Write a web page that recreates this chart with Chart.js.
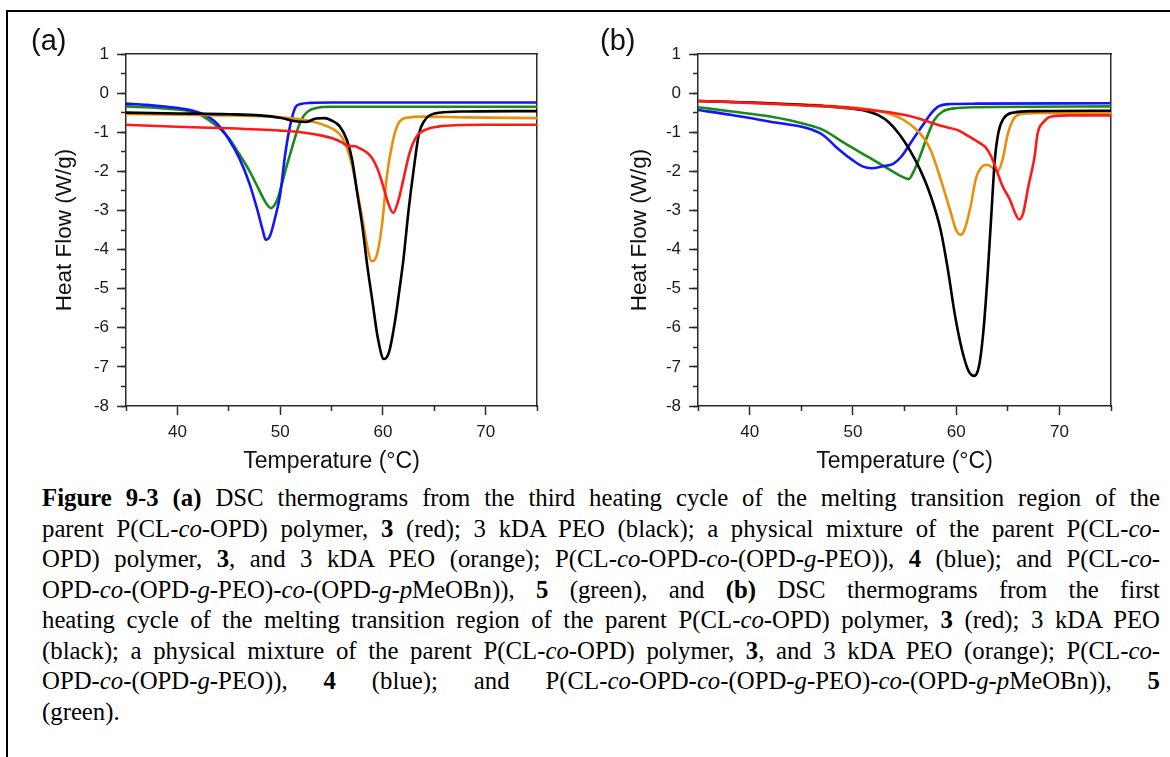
<!DOCTYPE html>
<html>
<head>
<meta charset="utf-8">
<script src="https://cdn.jsdelivr.net/npm/chart.js@4.4.1/dist/chart.umd.min.js"></script>
<style>
html,body{margin:0;padding:0;background:#fff;width:1170px;height:757px;overflow:hidden;}
#frame{position:absolute;left:6px;top:10px;width:1300px;height:900px;border-left:2px solid #000;border-top:2px solid #000;}
canvas{position:absolute;top:0;}
#ca{left:0px;}
#cb{left:585px;}
.panel{position:absolute;font-family:'Liberation Sans',Arial,sans-serif;font-size:29px;line-height:29px;color:#111;}
#caption{position:absolute;left:42px;width:1118px;top:483px;font-family:'Liberation Serif','Times New Roman',serif;font-size:25px;line-height:30.5px;color:#000;}
#caption .ln{text-align:justify;text-align-last:justify;white-space:nowrap;}
#caption .ln.last{text-align-last:left;}
#caption .ln span{display:inline;}
</style>
</head>
<body>
<div id="frame"></div>
<canvas id="ca" width="585" height="480"></canvas>
<canvas id="cb" width="585" height="480"></canvas>
<div class="panel" style="left:31px;top:26px;">(a)</div>
<div class="panel" style="left:600px;top:26px;">(b)</div>
<div id="caption">
<div class="ln"><span><b>Figure 9-3 (a)</b> DSC thermograms from the third heating cycle of the melting transition region of the</span></div>
<div class="ln"><span>parent P(CL-<i>co</i>-OPD) polymer, <b>3</b> (red); 3 kDA PEO (black); a physical mixture of the parent P(CL-<i>co</i>-</span></div>
<div class="ln"><span>OPD) polymer, <b>3</b>, and 3 kDA PEO (orange); P(CL-<i>co</i>-OPD-<i>co</i>-(OPD-<i>g</i>-PEO)), <b>4</b> (blue); and P(CL-<i>co</i>-</span></div>
<div class="ln"><span>OPD-<i>co</i>-(OPD-<i>g</i>-PEO)-<i>co</i>-(OPD-<i>g</i>-<i>p</i>MeOBn)), <b>5</b> (green), and <b>(b)</b> DSC thermograms from the first</span></div>
<div class="ln"><span>heating cycle of the melting transition region of the parent P(CL-<i>co</i>-OPD) polymer, <b>3</b> (red); 3 kDA PEO</span></div>
<div class="ln"><span>(black); a physical mixture of the parent P(CL-<i>co</i>-OPD) polymer, <b>3</b>, and 3 kDA PEO (orange); P(CL-<i>co</i>-</span></div>
<div class="ln"><span>OPD-<i>co</i>-(OPD-<i>g</i>-PEO)), <b>4</b> (blue); and P(CL-<i>co</i>-OPD-<i>co</i>-(OPD-<i>g</i>-PEO)-<i>co</i>-(OPD-<i>g</i>-<i>p</i>MeOBn)), <b>5</b></span></div>
<div class="ln last"><span>(green).</span></div>
</div>
<script>
// ---------- DATA ----------
const xMajorTicks = [40, 50, 60, 70];
const xMinorTicks = [35, 45, 55, 65, 75];
const yTickMin = -8, yTickMax = 1;
const xTitle = 'Temperature (°C)';
const yTitle = 'Heat Flow (W/g)';
const seriesNames = ['3 (red)', '3 kDA PEO (black)', 'mixture (orange)', '4 (blue)', '5 (green)'];

// (a) third heating cycle
const aRedT   = [35, 40, 45, 50, 52, 53.5, 55.0, 56.0, 56.6, 57.3, 57.8, 58.5, 59.0, 59.5, 60.0, 60.5, 61.0, 61.5, 62.0, 62.6, 63.3, 64.3, 65.5, 67, 70, 75];
const aRedHF  = [-0.81, -0.86, -0.90, -0.96, -1.00, -1.06, -1.15, -1.26, -1.35, -1.36, -1.42, -1.53, -1.68, -1.95, -2.35, -2.80, -3.06, -2.75, -2.20, -1.53, -1.10, -0.92, -0.85, -0.82, -0.81, -0.81];
const aBlackT  = [35, 40, 45, 48, 50, 51.5, 52.5, 53.5, 54.3, 55.0, 55.8, 56.5, 57.0, 57.5, 58.0, 58.5, 59.0, 59.5, 60.1, 60.6, 61.2, 61.6, 62.0, 62.5, 63.0, 63.5, 64.0, 64.5, 65.5, 68, 75];
const aBlackHF = [-0.50, -0.52, -0.54, -0.57, -0.63, -0.72, -0.74, -0.65, -0.64, -0.70, -0.85, -1.20, -1.70, -2.55, -3.40, -4.45, -5.35, -6.25, -6.80, -6.62, -5.80, -5.05, -4.25, -3.00, -1.95, -1.05, -0.72, -0.58, -0.50, -0.47, -0.46];
const aOrangeT  = [35, 40, 45, 50, 52, 53.5, 54.5, 55.4, 56.0, 56.5, 57.0, 57.5, 58.0, 58.5, 58.9, 59.4, 59.9, 60.4, 61.0, 61.5, 62.3, 64, 68, 75];
const aOrangeHF = [-0.53, -0.55, -0.57, -0.62, -0.67, -0.75, -0.84, -0.96, -1.12, -1.40, -1.85, -2.50, -3.20, -3.95, -4.30, -4.15, -3.40, -2.10, -1.19, -0.78, -0.63, -0.60, -0.62, -0.64];
const aBlueT  = [35, 37, 39, 41, 42, 43, 44, 45, 46, 47, 47.8, 48.3, 48.6, 49.0, 49.5, 50.0, 50.5, 51.0, 51.5, 52.0, 53.0, 55, 75];
const aBlueHF = [-0.27, -0.30, -0.35, -0.42, -0.49, -0.60, -0.82, -1.18, -1.65, -2.30, -3.00, -3.50, -3.75, -3.66, -3.20, -2.60, -1.55, -0.80, -0.36, -0.28, -0.25, -0.24, -0.24];
const aGreenT  = [35, 37, 39, 41, 42, 43, 44, 45, 46, 47, 48, 48.6, 49.1, 49.7, 50.2, 50.6, 51.2, 51.8, 52.3, 52.8, 53.5, 55, 75];
const aGreenHF = [-0.34, -0.36, -0.40, -0.45, -0.52, -0.68, -0.88, -1.15, -1.55, -1.98, -2.50, -2.80, -2.94, -2.74, -2.30, -1.90, -1.36, -0.85, -0.58, -0.45, -0.38, -0.35, -0.35];

// (b) first heating cycle
const bRedT   = [35, 40, 45, 49, 52.9, 55.4, 57.2, 58.7, 60.1, 61.2, 62.3, 62.8, 63.4, 63.9, 64.5, 65.2, 65.7, 66.1, 66.5, 67.0, 67.6, 67.9, 68.5, 69.2, 71, 75];
const bRedHF  = [-0.20, -0.25, -0.31, -0.37, -0.47, -0.58, -0.72, -0.85, -0.94, -1.10, -1.28, -1.37, -1.62, -1.96, -2.38, -2.72, -3.06, -3.23, -3.06, -2.38, -1.62, -1.02, -0.73, -0.60, -0.57, -0.57];
const bBlackT  = [35, 40, 45, 49, 51, 52.5, 53.5, 54.5, 55.5, 56.5, 57.5, 58.5, 59.2, 59.9, 60.6, 61.2, 61.75, 62.2, 62.6, 63.0, 63.4, 63.75, 64.1, 64.6, 65.5, 67.5, 75];
const bBlackHF = [-0.20, -0.24, -0.30, -0.37, -0.44, -0.57, -0.75, -1.05, -1.45, -1.95, -2.60, -3.50, -4.51, -5.70, -6.60, -7.10, -7.23, -7.00, -6.20, -4.85, -3.15, -1.70, -1.00, -0.65, -0.50, -0.46, -0.45];
const bOrangeT  = [35, 40, 45, 49, 52, 53.9, 55.0, 56.0, 57.0, 57.6, 58.5, 59.4, 60.0, 60.4, 60.8, 61.4, 61.9, 62.5, 63.0, 63.6, 64.0, 64.5, 65.0, 65.6, 66.3, 69, 75];
const bOrangeHF = [-0.20, -0.24, -0.29, -0.35, -0.43, -0.56, -0.70, -0.90, -1.20, -1.50, -2.20, -2.98, -3.50, -3.62, -3.50, -2.90, -2.20, -1.88, -1.83, -1.92, -2.00, -1.70, -1.05, -0.65, -0.53, -0.51, -0.51];
const bBlueT  = [35, 38.3, 42, 45.6, 47.1, 48.5, 50.0, 51.0, 51.8, 52.9, 53.9, 54.7, 55.8, 56.7, 57.6, 58.3, 59.4, 62, 75];
const bBlueHF = [-0.43, -0.56, -0.73, -0.90, -1.07, -1.41, -1.72, -1.88, -1.92, -1.87, -1.81, -1.62, -1.19, -0.85, -0.51, -0.34, -0.28, -0.27, -0.26];
const bGreenT  = [35, 38.3, 42, 45.6, 47.1, 49.2, 51.4, 53.6, 54.7, 55.4, 55.9, 56.5, 57.2, 57.9, 58.7, 59.8, 62, 75];
const bGreenHF = [-0.36, -0.47, -0.60, -0.81, -0.94, -1.28, -1.62, -1.96, -2.13, -2.20, -2.00, -1.62, -1.11, -0.68, -0.47, -0.39, -0.36, -0.34];

// ---------- CAPTION FIT ----------
(function fitCaption() {
  const cap = document.getElementById('caption');
  const spans = cap.querySelectorAll('.ln span');
  let maxW = 0;
  spans.forEach(s => { maxW = Math.max(maxW, s.getBoundingClientRect().width); });
  const base = 25;
  const fs = Math.min(26, base * 1108 / maxW);
  cap.style.fontSize = fs.toFixed(2) + 'px';
})();

// ---------- STYLE ----------
const COLORS = ['#ff1a1a', '#000000', '#e8900c', '#1414ff', '#1a8a1a'];
const AX = '#2a2a2a';
const FONT = "'Liberation Sans', Arial, sans-serif";
Chart.defaults.font.family = FONT;
Chart.defaults.color = '#1a1a1a';

function pts(T, HF) { return T.map((t, i) => ({x: t, y: HF[i]})); }

function makeDatasets(list) {
  return list.map((pair, i) => ({
    label: seriesNames[i],
    data: pts(pair[0], pair[1]),
    borderColor: COLORS[i],
    backgroundColor: COLORS[i],
    borderWidth: 2.6,
    pointRadius: 0,
    fill: false,
    cubicInterpolationMode: 'monotone',
    xAxisID: 'x', yAxisID: 'y'
  }));
}

function makeOptions(yWidth, yTitlePad, padRight) {
  const frame = (pos) => ({
    type: 'linear', position: pos, min: (pos === 'top' ? 35 : yTickMin), max: (pos === 'top' ? 75 : yTickMax),
    ticks: {display: false}, grid: {display: false},
    border: {display: true, color: AX, width: 1.5},
    afterFit(s) { if (s.isHorizontal()) s.height = 0; else s.width = 0; }
  });
  return {
    responsive: false, animation: false, devicePixelRatio: 1,
    layout: {padding: {left: 0, top: 54, right: padRight, bottom: 0}},
    plugins: {legend: {display: false}, tooltip: {enabled: false}},
    scales: {
      x: {
        type: 'linear', position: 'bottom', min: 35, max: 75, weight: 1,
        afterBuildTicks(s) { s.ticks = xMajorTicks.map(v => ({value: v})); },
        ticks: {font: {size: 17}, padding: 7, autoSkip: false, maxRotation: 0, color: '#1a1a1a'},
        grid: {display: true, drawOnChartArea: false, drawTicks: true, tickLength: 9, tickWidth: 1.5, tickColor: AX},
        border: {display: true, color: AX, width: 1.5},
        title: {display: true, text: xTitle, font: {size: 23}, color: '#111', padding: {top: 0, bottom: 5}},
        afterFit(s) { s.height = 74; }
      },
      xMinor: {
        type: 'linear', position: 'bottom', min: 35, max: 75, weight: 0,
        afterBuildTicks(s) { s.ticks = xMinorTicks.map(v => ({value: v})); },
        ticks: {display: false, autoSkip: false},
        grid: {display: true, drawOnChartArea: false, drawTicks: true, tickLength: 5, tickWidth: 1.5, tickColor: AX},
        border: {display: false},
        afterFit(s) { s.height = 0; }
      },
      xTop: frame('top'),
      y: {
        type: 'linear', position: 'left', min: yTickMin, max: yTickMax, weight: 1,
        ticks: {stepSize: 1, font: {size: 17}, padding: 8, autoSkip: false, color: '#1a1a1a'},
        grid: {display: true, drawOnChartArea: false, drawTicks: true, tickLength: 9, tickWidth: 1.5, tickColor: AX},
        border: {display: true, color: AX, width: 1.5},
        title: {display: true, text: yTitle, font: {size: 22.5}, color: '#111', padding: {top: yTitlePad, bottom: 0}},
        afterFit(s) { s.width = yWidth; }
      },
      yMinor: {
        type: 'linear', position: 'left', min: yTickMin, max: yTickMax, weight: 0,
        ticks: {display: false, stepSize: 0.5, autoSkip: false},
        grid: {display: true, drawOnChartArea: false, drawTicks: true, tickLength: 5, tickWidth: 1.5, tickColor: AX},
        border: {display: false},
        afterFit(s) { s.width = 0; }
      },
      yRight: frame('right')
    }
  };
}

new Chart(document.getElementById('ca'), {
  type: 'line',
  data: {datasets: makeDatasets([[aRedT, aRedHF], [aBlackT, aBlackHF], [aOrangeT, aOrangeHF], [aBlueT, aBlueHF], [aGreenT, aGreenHF]])},
  options: makeOptions(126, 51, 48)
});
new Chart(document.getElementById('cb'), {
  type: 'line',
  data: {datasets: makeDatasets([[bRedT, bRedHF], [bBlackT, bBlackHF], [bOrangeT, bOrangeHF], [bBlueT, bBlueHF], [bGreenT, bGreenHF]])},
  options: makeOptions(113, 41, 59)
});
</script>
</body>
</html>
